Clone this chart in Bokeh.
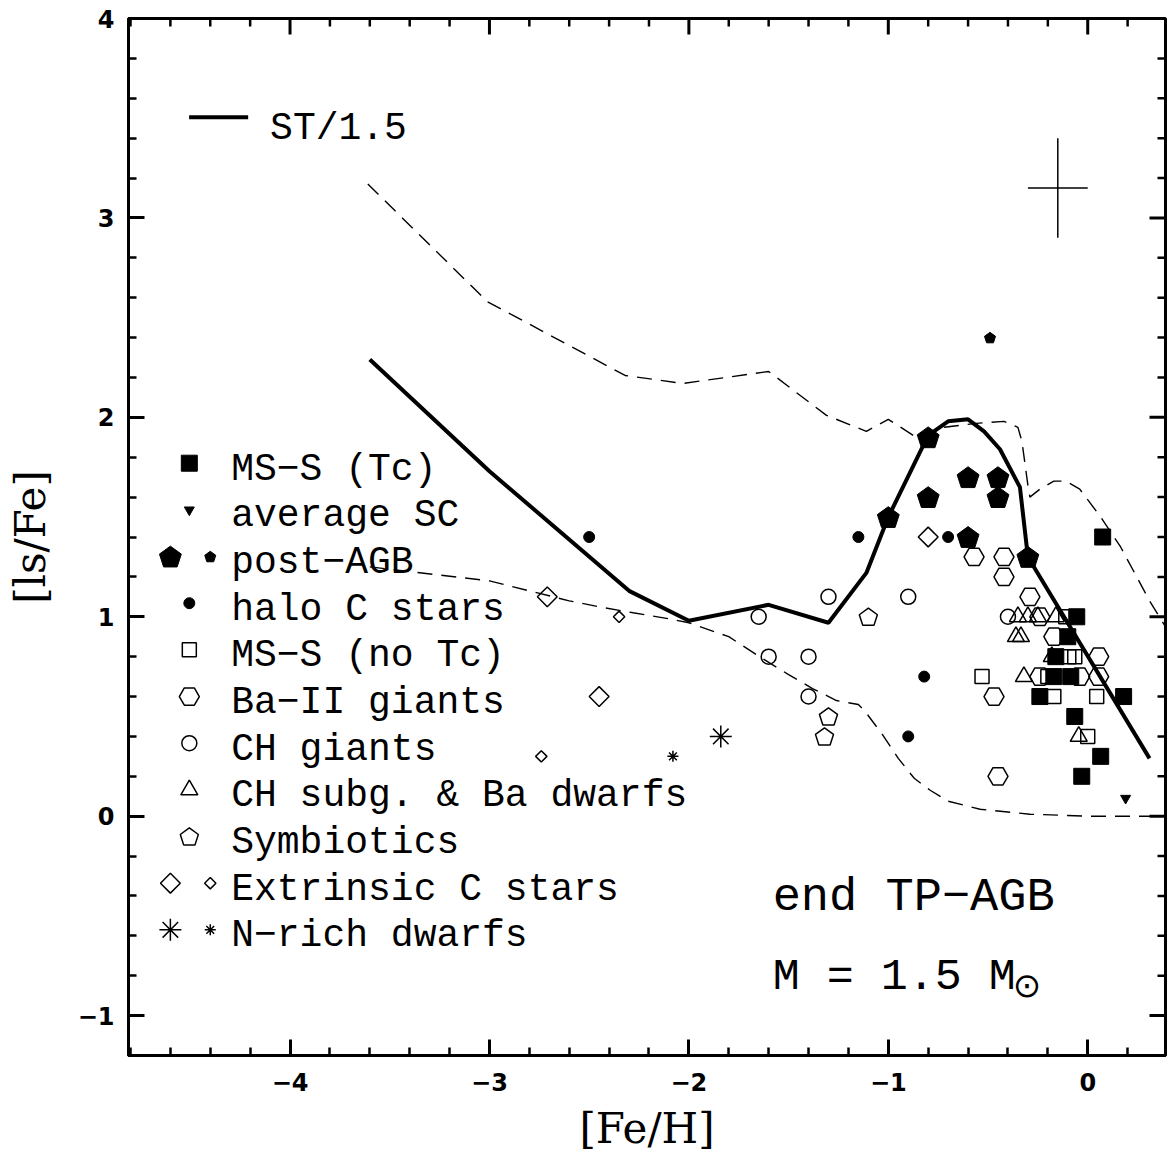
import numpy as np
from bokeh.plotting import figure
from bokeh.models import FixedTicker, Range1d
from bokeh.core.properties import value
from bokeh.embed import file_html
from bokeh.resources import INLINE

# ---------------- data ----------------
# model curves ([Fe/H], [ls/Fe])
st15_x = [-3.60, -3.00, -2.30, -2.00, -1.60, -1.30, -1.11, -1.00, -0.80, -0.70, -0.60, -0.52, -0.44, -0.34, -0.30, 0.31]
st15_y = [2.29, 1.73, 1.13, 0.98, 1.06, 0.97, 1.22, 1.50, 1.91, 1.98, 1.99, 1.93, 1.84, 1.65, 1.30, 0.29]

upper_x = [-3.61, -3.01, -2.32, -2.03, -1.60, -1.31, -1.11, -1.00, -0.86, -0.72, -0.56, -0.42, -0.35, -0.33, -0.30, -0.29,
           -0.24, -0.17, -0.11, -0.04, 0.065, 0.165, 0.31, 0.39]
upper_y = [3.17, 2.58, 2.21, 2.17, 2.23, 2.01, 1.93, 1.99, 1.90, 1.95, 1.97, 1.98, 1.95, 1.88, 1.66, 1.60,
           1.64, 1.68, 1.68, 1.64, 1.50, 1.35, 1.08, 0.95]

lower_x = [-3.60, -3.00, -2.80, -2.60, -2.45, -2.28, -2.10, -2.00, -1.80, -1.63, -1.50, -1.38, -1.26, -1.15, -1.12,
           -1.03, -0.95, -0.87, -0.79, -0.70, -0.54, -0.29, 0.00, 0.39]
lower_y = [1.25, 1.18, 1.13, 1.08, 1.05, 1.02, 0.99, 0.97, 0.90, 0.79, 0.71, 0.64, 0.58, 0.56, 0.53,
           0.41, 0.29, 0.19, 0.13, 0.075, 0.035, 0.01, 0.00, 0.00]

# observations
ms_tc_x = [0.075, -0.055, -0.10, -0.16, -0.17, -0.085, -0.24, 0.18, -0.065, 0.065, -0.03]
ms_tc_y = [1.40, 1.00, 0.90, 0.80, 0.70, 0.70, 0.60, 0.60, 0.50, 0.30, 0.20]
avg_sc_x = [0.19]
avg_sc_y = [0.09]
pagb_x = [-0.80, -0.60, -0.45, -0.80, -0.45, -1.00, -0.60, -0.30]
pagb_y = [1.90, 1.70, 1.70, 1.60, 1.60, 1.50, 1.40, 1.30]
pagb_small_x = [-0.49]
pagb_small_y = [2.40]
halo_x = [-2.50, -1.15, -0.70, -0.82, -0.90]
halo_y = [1.40, 1.40, 1.40, 0.70, 0.40]
ms_notc_x = [-0.53, -0.11, -0.095, -0.065, -0.20, -0.17, 0.045, 0.00]
ms_notc_y = [0.70, 1.00, 0.80, 0.80, 0.70, 0.60, 0.60, 0.40]
ba_x = [-0.57, -0.42, -0.42, -0.29, -0.24, -0.17, 0.055, -0.24, -0.04, 0.055, -0.47, -0.45]
ba_y = [1.30, 1.30, 1.20, 1.10, 1.00, 0.90, 0.80, 0.70, 0.70, 0.70, 0.60, 0.20]
ch_x = [-1.30, -0.90, -1.65, -1.60, -1.40, -1.40, -0.40]
ch_y = [1.10, 1.10, 1.00, 0.80, 0.80, 0.60, 1.00]
chsub_x = [-0.35, -0.30, -0.25, -0.16, -0.36, -0.335, -0.18, -0.32, -0.045]
chsub_y = [1.00, 1.00, 1.00, 1.00, 0.90, 0.90, 0.80, 0.70, 0.40]
sym_x = [-1.10, -1.30, -1.32]
sym_y = [1.00, 0.50, 0.40]
extc_x = [-2.71, -2.45, -0.80]
extc_y = [1.10, 0.60, 1.40]
extc_small_x = [-2.35, -2.74]
extc_small_y = [1.00, 0.30]
nrich_x = [-1.84]
nrich_y = [0.40]
nrich_small_x = [-2.08]
nrich_small_y = [0.30]

# typical error bar
err_x = [-0.15]
err_y = [3.15]
err_dx = [0.15]
err_dy = [0.25]

legend_labels = ["MS\u2212S (Tc)", "average SC", "post\u2212AGB", "halo C stars", "MS\u2212S (no Tc)",
                 "Ba\u2212II giants", "CH giants", "CH subg. & Ba dwarfs", "Symbiotics",
                 "Extrinsic C stars", "N\u2212rich dwarfs"]

x_ticks = [-4, -3, -2, -1, 0]
x_tick_labels = ["\u22124", "\u22123", "\u22122", "\u22121", "0"]
y_ticks = [-1, 0, 1, 2, 3, 4]
y_tick_labels = ["\u22121", "0", "1", "2", "3", "4"]

# ---------------- layout ----------------
X0, X1 = -4.81, 0.39
Y0, Y1 = -1.2, 4.0
FRAME = 1037
UPX = (X1 - X0) / FRAME  # data units per pixel (same on both axes)
MAJ_LEN, MIN_LEN = 16, 8

p = figure(width=1167, height=1155, x_range=Range1d(X0, X1), y_range=Range1d(Y0, Y1),
           output_backend="svg", toolbar_location=None,
           min_border_left=128, min_border_right=2, min_border_top=18, min_border_bottom=100)
p.grid.visible = False
p.outline_line_color = "black"
p.outline_line_width = 3
p.background_fill_color = "white"
p.border_fill_color = "white"

x_minor = [round(v, 2) for v in np.arange(-4.8, 0.41, 0.2)]
y_minor = [round(v, 2) for v in np.arange(-1.2, 4.01, 0.2)]


def style_axis(ax, ticks, minor, labels):
    ax.ticker = FixedTicker(ticks=ticks, minor_ticks=minor)
    ax.axis_line_width = 3
    ax.major_tick_in = MAJ_LEN
    ax.major_tick_out = 0
    ax.minor_tick_in = MIN_LEN
    ax.minor_tick_out = 0
    ax.major_tick_line_width = 3
    ax.minor_tick_line_width = 2.5
    ax.major_label_overrides = {t: l for t, l in zip(ticks, labels)}
    ax.major_label_text_font = "DejaVu Sans"
    ax.major_label_text_font_style = "bold"
    ax.major_label_text_font_size = "24px"
    ax.major_label_text_color = "black"
    ax.axis_label_text_font = "DejaVu Serif"
    ax.axis_label_text_font_style = "normal"
    ax.axis_label_text_font_size = "42px"
    ax.axis_label_text_color = "black"


style_axis(p.xaxis[0], x_ticks, x_minor, x_tick_labels)
style_axis(p.yaxis[0], y_ticks, y_minor, y_tick_labels)
p.xaxis[0].major_label_standoff = 17
p.yaxis[0].major_label_standoff = 14
p.xaxis[0].axis_label = "[Fe/H]"
p.yaxis[0].axis_label = "[ls/Fe]"
p.xaxis[0].axis_label_standoff = 10
p.yaxis[0].axis_label_standoff = 20

# ticks on the top and right frame edges (inward, no labels)
xt_major = np.array(x_ticks, dtype=float)
xt_minor = np.array([v for v in x_minor if v not in x_ticks])
yt_major = np.array(y_ticks, dtype=float)
yt_minor = np.array([v for v in y_minor if v not in y_ticks])
p.segment(xt_major, Y1, xt_major, Y1 - MAJ_LEN * UPX, line_color="black", line_width=3)
p.segment(xt_minor, Y1, xt_minor, Y1 - MIN_LEN * UPX, line_color="black", line_width=2.5)
p.segment(X1, yt_major, X1 - MAJ_LEN * UPX, yt_major, line_color="black", line_width=3)
p.segment(X1, yt_minor, X1 - MIN_LEN * UPX, yt_minor, line_color="black", line_width=2.5)

MONO = value("Liberation Mono")

# ---------------- curves ----------------
p.line(upper_x, upper_y, line_color="black", line_width=1.4, line_dash="15 9")
p.line(lower_x, lower_y, line_color="black", line_width=1.4, line_dash="15 9")
p.line(st15_x, st15_y, line_color="black", line_width=4)

# error cross
ex, ey, edx, edy = np.array(err_x), np.array(err_y), np.array(err_dx), np.array(err_dy)
p.segment(ex - edx, ey, ex + edx, ey, line_color="black", line_width=1.5)
p.segment(ex, ey - edy, ex, ey + edy, line_color="black", line_width=1.5)


# ---------------- marker helpers ----------------
def pentagons(xs, ys, r_px, filled):
    ang = np.pi / 2 + np.arange(5) * 2 * np.pi / 5
    r = r_px * UPX
    shift = 0.095 * r
    pxs = [list(x + r * np.cos(ang)) for x in xs]
    pys = [list(y - shift + r * np.sin(ang)) for y in ys]
    if filled:
        p.patches(pxs, pys, fill_color="black", line_color="black", line_width=1)
    else:
        p.patches(pxs, pys, fill_color=None, line_color="black", line_width=1.5)


def open_marker(xs, ys, marker, size, angle=0.0):
    p.scatter(xs, ys, marker=marker, size=size, angle=angle, fill_color=None,
              line_color="black", line_width=1.5)


def filled_marker(xs, ys, marker, size, angle=0.0):
    p.scatter(xs, ys, marker=marker, size=size, angle=angle, fill_color="black",
              line_color="black", line_width=1)


def draw_group(kind, xs, ys):
    if kind == "ms_tc":
        filled_marker(xs, ys, "square", 16)
    elif kind == "avg_sc":
        filled_marker(xs, ys, "inverted_triangle", 10)
    elif kind == "pagb":
        pentagons(xs, ys, 11.5, True)
    elif kind == "pagb_small":
        pentagons(xs, ys, 5.8, True)
    elif kind == "halo":
        filled_marker(xs, ys, "circle", 11)
    elif kind == "ms_notc":
        open_marker(xs, ys, "square", 14)
    elif kind == "ba":
        open_marker(xs, ys, "hex", 20)
    elif kind == "ch":
        open_marker(xs, ys, "circle", 15)
    elif kind == "chsub":
        open_marker(xs, ys, "triangle", 17)
    elif kind == "sym":
        pentagons(xs, ys, 9.5, False)
    elif kind == "extc":
        open_marker(xs, ys, "square", 14, np.pi / 4)
    elif kind == "extc_small":
        open_marker(xs, ys, "square", 8, np.pi / 4)
    elif kind == "nrich":
        p.scatter(xs, ys, marker="asterisk", size=22, line_color="black", line_width=1.5)
    elif kind == "nrich_small":
        p.scatter(xs, ys, marker="asterisk", size=11, line_color="black", line_width=1.5)


# ---------------- data points ----------------
draw_group("ms_notc", ms_notc_x, ms_notc_y)
draw_group("ba", ba_x, ba_y)
draw_group("ch", ch_x, ch_y)
draw_group("chsub", chsub_x, chsub_y)
draw_group("sym", sym_x, sym_y)
draw_group("extc", extc_x, extc_y)
draw_group("extc_small", extc_small_x, extc_small_y)
draw_group("nrich", nrich_x, nrich_y)
draw_group("nrich_small", nrich_small_x, nrich_small_y)
draw_group("halo", halo_x, halo_y)
draw_group("pagb", pagb_x, pagb_y)
draw_group("pagb_small", pagb_small_x, pagb_small_y)
draw_group("ms_tc", ms_tc_x, ms_tc_y)
draw_group("avg_sc", avg_sc_x, avg_sc_y)

# ---------------- legend (drawn manually) ----------------
LEG_MARK_X = -4.505
LEG_PAIR_X = (-4.60, -4.40)
LEG_TEXT_X = -4.295
LEG_Y0 = 1.770
LEG_STEP = 0.234
LEG_BASE_OFF = -0.030

legend_kinds = [("ms_tc",), ("avg_sc",), ("pagb", "pagb_small"), ("halo",), ("ms_notc",), ("ba",),
                ("ch",), ("chsub",), ("sym",), ("extc", "extc_small"), ("nrich", "nrich_small")]
text_y = []
for i, kinds in enumerate(legend_kinds):
    yy = LEG_Y0 - i * LEG_STEP
    text_y.append(yy + LEG_BASE_OFF)
    if len(kinds) == 1:
        draw_group(kinds[0], [LEG_MARK_X], [yy])
    else:
        draw_group(kinds[0], [LEG_PAIR_X[0]], [yy])
        draw_group(kinds[1], [LEG_PAIR_X[1]], [yy])
p.text([LEG_TEXT_X] * len(legend_labels), text_y, text=legend_labels, text_font=MONO,
       text_font_size=value("38px"), text_baseline="alphabetic", text_align="left", text_color="black")

# model legend (top left)
p.line([-4.506, -4.21], [3.505, 3.505], line_color="black", line_width=4)
p.text([-4.10], [3.45], text=["ST/1.5"], text_font=MONO, text_font_size=value("38px"),
       text_baseline="alphabetic", text_align="left", text_color="black")

# annotations bottom right
p.text([-1.58], [-0.41], text=["end TP\u2212AGB"], text_font=MONO, text_font_size=value("47px"),
       text_baseline="alphabetic", text_align="left", text_color="black")
p.text([-1.58], [-0.81], text=["M = 1.5 M"], text_font=MONO, text_font_size=value("45px"),
       text_baseline="alphabetic", text_align="left", text_color="black")
p.text([-0.305], [-0.845], text=["\u2299"], text_font=value("DejaVu Sans"), text_font_size=value("34px"),
       text_baseline="middle", text_align="center", text_color="black")

open("out.html", "w").write(file_html(p, INLINE))
